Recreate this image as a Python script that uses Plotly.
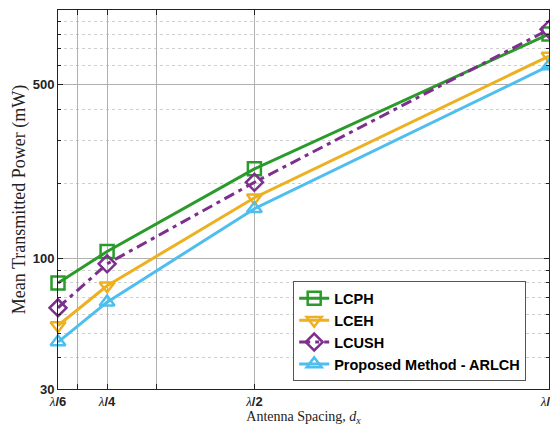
import plotly.graph_objects as go

spacing = [1/6, 1/4, 1/2, 1]
lcph = [80, 107, 230, 800]
lceh = [54, 78, 176, 653]
lcush = [63.6, 95.5, 203, 836]
arlch = [46.3, 67, 159, 596]

x_tickvals = [1/6, 1/5, 1/4, 1/3, 1/2, 1]
x_labels = ["6", "", "4", "", "2", "1"]
y_tickvals = [30, 100, 500]
y_minor = [40, 50, 60, 70, 80, 90, 200, 300, 400, 600, 700, 800, 900]

series = [
    ("LCPH", lcph, "#2A9A2A", "square-open", "solid"),
    ("LCEH", lceh, "#EDB120", "triangle-down-open", "solid"),
    ("LCUSH", lcush, "#7E2F8E", "diamond-open", "dashdot"),
    ("Proposed Method - ARLCH", arlch, "#4DBEEE", "triangle-up-open", "solid"),
]

SANS = "Liberation Sans, Arial, sans-serif"
SERIF = "Liberation Serif, Times New Roman, serif"

def xlab(d):
    if not d:
        return ""
    return ("<span style='font-family:Liberation Serif'><i>λ</i></span><b>/" + d + "</b>")

fig = go.Figure()
for name, vals, col, sym, dash in series:
    fig.add_trace(go.Scatter(
        x=spacing, y=vals, name="<b>" + name + "</b>", mode="lines+markers",
        line=dict(color=col, width=3, dash=("11px,5px,4px,5px" if dash == "dashdot" else dash)),
        marker=dict(symbol=sym, size=13, color=col, line=dict(color=col, width=2.5)),
        cliponaxis=False,
    ))

fig.update_layout(
    width=550, height=418,
    margin=dict(l=50, r=9, t=2, b=37),
    paper_bgcolor="white", plot_bgcolor="white",
    showlegend=True,
    legend=dict(x=0.479, y=0.02, xanchor="left", yanchor="bottom",
                bgcolor="white", bordercolor="#555555", borderwidth=1,
                font=dict(family=SANS, size=14.5, color="black"),
                tracegroupgap=0, itemwidth=30),
    xaxis=dict(
        range=[1/6, 1], tickmode="array", tickvals=x_tickvals,
        ticktext=[xlab(d) for d in x_labels],
        showgrid=True, gridcolor="#b0b0b0", gridwidth=1,
        showline=True, linecolor="#222222", linewidth=1, mirror="ticks",
        ticks="inside", ticklen=5, tickcolor="#222222",
        tickfont=dict(family=SANS, size=13, color="#222222"),
        title=dict(text="Antenna Spacing, <i>d<sub>x</sub></i>",
                   font=dict(family=SERIF, size=14, color="#222222"),
                   standoff=2),
        zeroline=False, automargin=False,
    ),
    yaxis=dict(
        type="log", range=[1.4771, 3.0], tickmode="array", tickvals=y_tickvals,
        ticktext=["<b>30</b>", "<b>100</b>", "<b>500</b>"],
        showgrid=True, gridcolor="#b0b0b0", gridwidth=1,
        showline=True, linecolor="#222222", linewidth=1, mirror="ticks",
        ticks="inside", ticklen=5, tickcolor="#222222",
        tickfont=dict(family=SANS, size=13, color="#222222"),
        minor=dict(tickmode="array", tickvals=y_minor, ticks="inside", ticklen=3,
                   tickcolor="#222222", showgrid=True, gridcolor="#cfcfcf",
                   griddash="dot", gridwidth=1),
        title=dict(text="Mean Transmitted Power (mW)",
                   font=dict(family=SERIF, size=18, color="#222222"),
                   standoff=2),
        zeroline=False, automargin=False,
    ),
)
fig.write_html("out.html")
